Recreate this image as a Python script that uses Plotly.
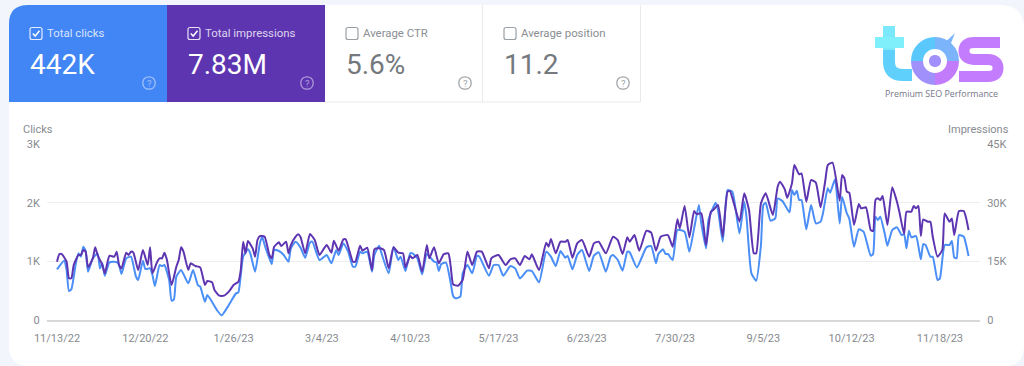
import re
import pandas as pd
import plotly.graph_objects as go

W, H = 1024, 366
START = "2022-11-13"

clicks_days = [0,3,4,5,6,8,9,10,11,12,13,15,17,18,19,20,22,25,26,27,29,31,33,34,36,37,39,40,41,43,44,45,47,48,49,50,52,55,57,59,60,62,63,67,69,72,75,76,78,80,81,83,85,86,87,89,90,91,93,95,97,98,100,102,
104,106,107,110,113,115,117,118,120,122,124,125,127,128,130,132,133,135,136,139,141,143,144,146,148,149,151,153,155,158,159,160,161,163,165,166,167,169,170,172,174,176,177,181,183,185,187,190,192,194,197,199,202,205,207,209,211,213,214,216,218,220,223,225,227,
230,232,233,235,237,239,240,243,247,249,251,252,254,255,256,258,260,263,265,267,269,270,272,273,276,277,279,281,283,286,288,289,291,293,295,296,297,299,301,302,304,307,308,309,310,311,
312,314,316,318,320,321,323,324,326,328,329,331,332,334,336,338,341,342,343,344,345,347,348,350,352,354,355,356,357,358,360,362,363,364,366,367,369,370,372,374,375,376,377,378,380,381,382]
clicks = [863,1011,852,494,523,994,1136,1080,1250,1176,824,1051,1136,880,966,755,983,988,937,784,1051,1079,750,682,1011,869,880,767,579,937,920,937,682,329,352,738,852,625,852,596,568,312,426,170,80,256,454,471,1079,1204,1136,824,1306,1420,1278,1051,954,1193,1176,1108,994,1221,1335,1238,
1062,1318,1335,1022,1108,966,1193,1108,1306,1164,909,909,1164,1136,1164,824,1108,1267,1136,795,1250,1022,1079,835,1136,1136,1051,778,1125,994,983,835,954,977,625,409,369,398,795,937,795,1091,1079,755,937,937,755,920,880,710,841,835,642,1164,1079,920,1176,1062,1091,863,1108,1193,835,1096,1153,
824,1079,1108,1022,841,1164,1153,897,1238,1261,966,1125,1204,1125,1125,1022,1534,1505,1164,1562,1960,1647,1221,1704,1999,1874,1335,2215,2187,1477,2016,1732,795,670,1278,1960,1999,1693,1732,2073,2028,1835,2215,2130,2204,2045,
2045,1545,1960,1647,1676,1818,2244,2170,2397,1647,2102,1818,1732,1250,1545,1505,1096,1125,1761,1704,1761,1448,1267,1534,1579,1448,1465,1221,1522,1409,1431,1034,1295,1278,1079,1079,682,710,1278,1278,1346,1068,1051,1448,1420,1278,1091]

impressions_days = [0,1,2,4,5,6,7,9,10,11,12,13,15,16,17,19,20,22,24,25,26,27,29,30,31,32,34,36,38,39,40,42,43,44,45,46,48,50,51,52,53,55,56,58,60,62,63,65,66,68,70,72,74,76,77,78,79,80,82,83,84,85,87,89,90,91,93,94,96,97,98,100,101,102,
104,106,108,110,113,115,116,118,120,121,124,125,127,128,130,132,133,135,137,139,141,143,145,146,148,149,151,153,155,156,158,160,162,164,165,166,168,170,172,174,176,178,181,182,185,188,190,192,194,196,198,199,202,205,206,207,209,211,213,214,216,218,220,223,225,227,
230,233,235,237,239,240,242,244,247,249,251,253,256,258,260,261,263,265,267,268,270,272,274,275,277,279,281,282,286,288,290,292,293,295,297,300,302,303,305,306,308,309,311,
312,314,316,318,320,322,323,325,328,329,330,331,332,334,336,337,339,341,342,343,344,345,346,348,350,352,353,355,356,358,359,360,361,362,363,365,366,367,369,371,372,374,375,376,378,380,381,382]
impressions = [14910,16870,16870,14910,10650,10650,14058,16614,16614,17892,17466,13462,15762,18574,16614,14058,11928,16444,16188,17466,14058,13206,17210,16614,17466,17210,12780,17892,14058,18574,11928,14910,15762,15762,17210,15506,8946,13632,15336,18574,17466,12780,14484,13802,13462,8946,9968,9628,7668,6220,6220,7242,8946,9798,12780,20022,17040,20192,18318,16188,20448,21470,21300,16614,15762,18744,19852,18914,20022,17040,19170,21300,21896,21300,
17040,21982,20448,16614,19170,17210,20278,17722,20618,20618,14910,14910,19000,17722,18488,12780,18062,18318,17892,13206,18574,17210,17040,13462,16358,15762,16614,12354,19170,15762,18574,14484,16784,17040,13632,9116,8776,10224,17466,14058,17466,17466,13206,15762,16614,14058,15506,15762,14058,16358,15506,16784,12780,19766,18744,20704,17040,20022,20022,20448,15932,19596,20448,16188,19596,20022,
17040,21300,20448,16870,21130,20022,21726,17722,22834,22322,17722,21300,21726,18744,25730,23430,29138,21130,27860,27094,27264,19170,27690,28116,29394,21300,32802,32972,25134,32376,28116,17040,17040,29820,32376,26838,34080,35358,33398,31268,34932,39618,37232,
37488,30246,35784,35102,28798,35784,39618,40214,30502,37062,36210,32802,32546,24282,29650,28542,28798,23004,22748,30672,31098,30672,31694,24282,33910,30246,27690,21982,27690,27690,29138,28542,29138,21470,25730,25134,25134,21300,16188,17892,27264,25134,25986,21726,27860,27860,26000,23004]

tick_labels = ["11/13/22","12/20/22","1/26/23","3/4/23","4/10/23","5/17/23","6/23/23","7/30/23","9/5/23","10/12/23","11/18/23"]
tick_dates = ["2022-11-13","2022-12-20","2023-01-26","2023-03-04","2023-04-10","2023-05-17","2023-06-23","2023-07-30","2023-09-05","2023-10-12","2023-11-18"]
kpi_labels = ["Total clicks","Total impressions","Average CTR","Average position"]
kpi_values = ["442K","7.83M","5.6%","11.2"]
left_ticks = [0,1000,2000,3000]
left_labels = ["0","1K","2K","3K"]
right_ticks = [0,15000,30000,45000]
right_labels = ["0","15K","30K","45K"]

BLUE, PURPLE = "#4285f4", "#5e35b1"
GRAY = "#878b90"
CLEAR = "rgba(0,0,0,0)"

def dates(offsets):
    return pd.Timestamp(START) + pd.to_timedelta(offsets, unit="D")

def fx(x): return x / W
def fy(y): return 1 - y / H

def path(s):
    toks = re.findall(r"[MLCQZ]|-?\d+\.?\d*", s)
    out, n = [], 0
    for t in toks:
        if t in "MLCQZ":
            out.append(t); n = 0
        else:
            v = float(t)
            out.append(f"{fx(v) if n % 2 == 0 else fy(v):.5f}")
            n += 1
    return " ".join(out)

shapes, ann = [], []
def sh(d, fill=None, line=None, width=1):
    shapes.append(dict(type="path", xref="paper", yref="paper", path=path(d), layer="below",
                       fillcolor=fill or CLEAR,
                       line=dict(color=line or CLEAR, width=width if line else 0)))

def text(x, y, s, size, color, anchor="left", family="Roboto, sans-serif"):
    ann.append(dict(x=fx(x), y=fy(y), xref="paper", yref="paper", text=s, showarrow=False,
                    xanchor=anchor, yanchor="middle", font=dict(size=size, color=color, family=family),
                    borderpad=0, borderwidth=0))

# card
sh("M 9 25 Q 9 5 29 5 L 1000 5 Q 1024 5 1024 29 L 1024 346 Q 1024 366 1004 366 L 29 366 Q 9 366 9 346 Z", fill="#ffffff")
# tiles
sh("M 9 102 L 9 24 Q 9 5 28 5 L 167 5 L 167 102 Z", fill=BLUE)
sh("M 167 5 L 325 5 L 325 102 L 167 102 Z", fill=PURPLE)
sh("M 325 102 L 640.5 102 L 640.5 5", line="#e8eaed", width=1)
sh("M 482.5 5 L 482.5 102", line="#e8eaed", width=1)

tile_x = [30, 188, 346, 504]
help_x = [149, 307, 465, 623]
for i in range(4):
    on = i < 2
    x = tile_x[i]
    c = "rgba(255,255,255,0.85)" if on else "#9aa0a6"
    sh(f"M {x+2} 27.5 L {x+10} 27.5 Q {x+12} 27.5 {x+12} 29.5 L {x+12} 37.5 Q {x+12} 39.5 {x+10} 39.5 "
       f"L {x+2} 39.5 Q {x} 39.5 {x} 37.5 L {x} 29.5 Q {x} 27.5 {x+2} 27.5 Z", line=c, width=1.2)
    if on:
        sh(f"M {x+2.8} 33.5 L {x+5.2} 36 L {x+9.5} 30.8", line="#ffffff", width=1.5)
    text(x + 17, 32.5, kpi_labels[i], 11.4, "rgba(255,255,255,0.8)" if on else "#8a8e93")
    text(x, 64.5, kpi_values[i], 28, "#ffffff" if on else "#75797d")
    hx = help_x[i]
    hc = "rgba(255,255,255,0.5)" if on else "#a0a4a8"
    sh(f"M {hx-6.2} 83 C {hx-6.2} 74.7 {hx+6.2} 74.7 {hx+6.2} 83 C {hx+6.2} 91.3 {hx-6.2} 91.3 {hx-6.2} 83 Z", line=hc, width=1.3)
    text(hx, 83, "?", 9.5, hc, anchor="center")

# logo
sh("M 889 50 L 889 62 Q 889 75 903 75 L 912 75", line="#5fd0fb", width=12)
sh("M 889 26 L 889 50", line="#7ce8fb", width=12)
sh("M 875 42.5 L 904 42.5", line="#7ff0fb", width=11)
sh("M 917 61 C 917 51 925 43 935 43", line="#5ac8fb", width=12)
sh("M 935 43 C 945 43 953 51 953 61", line="#7cb4fb", width=12)
sh("M 953 61 C 953 71 945 79 935 79", line="#c27cfb", width=12)
sh("M 935 79 C 925 79 917 71 917 61", line="#a090fb", width=12)
sh("M 939 48 L 955 33 L 947 53 Z", fill="#7cb4fb")
sh("M 929 61 C 929 53 941 53 941 61 C 941 69 929 69 929 61 Z", fill="#a18ffb")
sh("M 1000 42.5 L 974 42.5 Q 964 42.5 964 51 Q 964 59 974 59.5 L 988 59.5 Q 998 60 998 68 Q 998 76.5 988 76.5 L 959 76.5", line="#c47cff", width=11)
text(941, 93.5, "Premium SEO Performance", 8.9, "#77778a", anchor="center", family="Open Sans, sans-serif")

# axis titles
text(23, 129, "Clicks", 11, GRAY)
text(1009, 129, "Impressions", 11, GRAY, anchor="right")

SMOOTH = dict(shape="spline", smoothing=0.5, width=2)
fig = go.Figure()
fig.add_trace(go.Scatter(x=dates(clicks_days), y=clicks, mode="lines", name="Clicks", yaxis="y",
                         line=dict(color="#4a8ef6", **SMOOTH), hoverinfo="skip"))
fig.add_trace(go.Scatter(x=dates(impressions_days), y=impressions, mode="lines", name="Impressions", yaxis="y2",
                         line=dict(color=PURPLE, **SMOOTH), hoverinfo="skip"))

t0 = pd.Timestamp(START)
fig.update_layout(
    width=W, height=H, margin=dict(l=0, r=0, t=0, b=0, pad=0), autosize=False, showlegend=False,
    paper_bgcolor="#f2f5fc", plot_bgcolor=CLEAR,
    shapes=shapes, annotations=ann,
    font=dict(family="Roboto, sans-serif", size=11, color=GRAY),
    xaxis=dict(domain=[fx(47), fx(980)], type="date", automargin=False,
               range=[t0 + pd.Timedelta(days=-4.2), t0 + pd.Timedelta(days=386.8)],
               tickmode="array", tickvals=tick_dates, ticktext=tick_labels, showgrid=False,
               showline=True, linecolor="#d6d8da", linewidth=2, ticks="outside", ticklen=7, tickcolor=CLEAR, tickangle=0,
               anchor="y", tickfont=dict(size=11, color=GRAY), zeroline=False),
    yaxis=dict(domain=[fy(320), fy(144)], range=[0, 3000], tickmode="array", tickvals=left_ticks,
               ticktext=left_labels, gridcolor="#eeeeee", gridwidth=1, zeroline=False,
               ticks="outside", ticklen=4, tickcolor=CLEAR,
               tickfont=dict(size=11, color=GRAY), showline=False, automargin=False),
    yaxis2=dict(domain=[fy(320), fy(144)], range=[0, 45000], overlaying="y", side="right", anchor="x",
                tickmode="array", tickvals=right_ticks, ticktext=right_labels, showgrid=False,
                zeroline=False, ticks="outside", ticklen=4, tickcolor=CLEAR,
                tickfont=dict(size=11, color=GRAY), showline=False, automargin=False),
)
fig.write_html("out.html", config=dict(displayModeBar=False),
               post_script="document.body.style.margin='0';document.body.style.overflow='hidden';")
